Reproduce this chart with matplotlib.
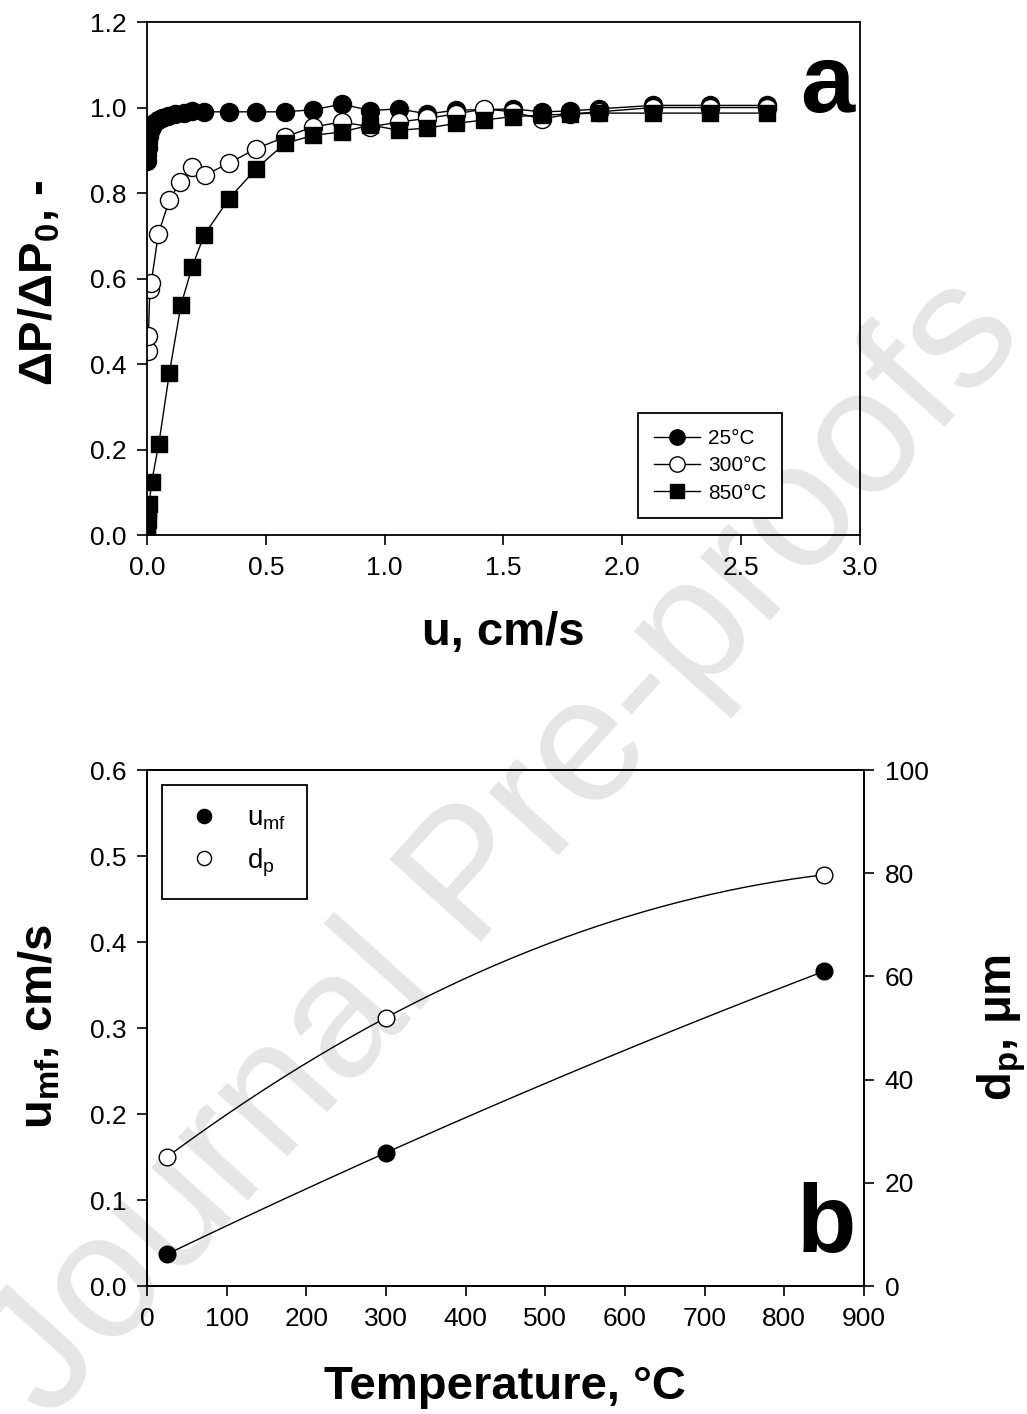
import numpy as np
import matplotlib
matplotlib.use("Agg")
import matplotlib.pyplot as plt

plt.rcParams['font.family'] = ['Liberation Sans', 'DejaVu Sans']
plt.rcParams['mathtext.fontset'] = 'custom'
plt.rcParams['mathtext.rm'] = 'Liberation Sans'
plt.rcParams['mathtext.it'] = 'Liberation Sans:italic'
plt.rcParams['mathtext.bf'] = 'Liberation Sans:bold'

# ---------------- Panel a data ----------------
u_25 = [0.0, 0.002, 0.004, 0.006, 0.009, 0.013, 0.02, 0.03, 0.045, 0.065, 0.09, 0.12, 0.155, 0.19,
        0.24, 0.345, 0.46, 0.58, 0.70, 0.82, 0.94, 1.06, 1.18, 1.30, 1.42, 1.54, 1.66, 1.78, 1.90,
        2.13, 2.37, 2.61]
dp_25 = [0.875, 0.89, 0.905, 0.92, 0.933, 0.945, 0.955, 0.963, 0.97, 0.975, 0.98, 0.984, 0.988, 0.992,
         0.99, 0.99, 0.99, 0.99, 0.995, 1.008, 0.993, 0.997, 0.985, 0.994, 0.995, 0.997, 0.99, 0.992,
         0.997, 1.005, 1.005, 1.005]

u_300 = [0.004, 0.006, 0.012, 0.018, 0.048, 0.094, 0.14, 0.19, 0.245, 0.345, 0.46, 0.58, 0.70, 0.82,
         0.94, 1.06, 1.18, 1.30, 1.42, 1.54, 1.66, 1.78, 1.90, 2.13, 2.37, 2.61]
dp_300 = [0.43, 0.465, 0.575, 0.59, 0.705, 0.783, 0.826, 0.86, 0.842, 0.87, 0.904, 0.931, 0.955, 0.966,
          0.955, 0.966, 0.975, 0.985, 0.997, 0.99, 0.973, 0.985, 0.99, 1.0, 1.0, 1.0]

u_850 = [0.0, 0.002, 0.004, 0.006, 0.009, 0.02, 0.05, 0.094, 0.143, 0.19, 0.24, 0.345, 0.46, 0.58,
         0.70, 0.82, 0.94, 1.06, 1.18, 1.30, 1.42, 1.54, 1.66, 1.78, 1.90, 2.13, 2.37, 2.61]
dp_850 = [0.0, 0.015, 0.035, 0.055, 0.072, 0.125, 0.214, 0.378, 0.538, 0.627, 0.701, 0.787, 0.857, 0.916,
          0.935, 0.943, 0.959, 0.947, 0.952, 0.963, 0.971, 0.979, 0.982, 0.985, 0.987, 0.987, 0.987, 0.987]

legend_a = ['25°C', '300°C', '850°C']
xticks_a = [0.0, 0.5, 1.0, 1.5, 2.0, 2.5, 3.0]
yticks_a = [0.0, 0.2, 0.4, 0.6, 0.8, 1.0, 1.2]

# ---------------- Panel b data ----------------
temp = [25, 300, 850]
umf = [0.037, 0.155, 0.366]
dpart = [25.0, 52.0, 79.7]
xticks_b = [0, 100, 200, 300, 400, 500, 600, 700, 800, 900]
yticks_b = [0.0, 0.1, 0.2, 0.3, 0.4, 0.5, 0.6]
yticks_b2 = [0, 20, 40, 60, 80, 100]

TICK_FS = 19
LABEL_FS = 34

fig = plt.figure(figsize=(10.27, 14.14), dpi=100)

# watermark
fig.text(0.49, 0.40, 'Journal Pre-proofs', fontsize=128, color='#e6e6e6',
         rotation=48, ha='center', va='center', zorder=-10)


def style_axis(ax):
    for s in ax.spines.values():
        s.set_linewidth(1.3)
    ax.tick_params(direction='out', length=7, width=1.2, labelsize=TICK_FS, pad=8,
                   top=False, right=False)
    ax.set_facecolor('none')


# ---------------- Panel a ----------------
ax1 = fig.add_axes([0.1431, 0.6216, 0.6943, 0.3628])
style_axis(ax1)
ax1.plot(u_25, dp_25, '-', color='black', lw=1.0, marker='o', ms=13,
         mfc='black', mec='black', mew=1.0, label=legend_a[0])
ax1.plot(u_300, dp_300, '-', color='black', lw=1.0, marker='o', ms=13,
         mfc='white', mec='black', mew=1.0, label=legend_a[1])
ax1.plot(u_850, dp_850, '-', color='black', lw=1.0, marker='s', ms=11.5,
         mfc='black', mec='black', mew=1.0, label=legend_a[2])
ax1.set_xlim(0, 3.0)
ax1.set_ylim(0, 1.2)
ax1.set_xticks(xticks_a)
ax1.set_xticklabels([f'{v:.1f}' for v in xticks_a])
ax1.set_yticks(yticks_a)
ax1.set_yticklabels([f'{v:.1f}' for v in yticks_a])
leg1 = ax1.legend(loc='lower left', bbox_to_anchor=(0.689, 0.033), fontsize=15,
                  frameon=True, fancybox=False, edgecolor='black', framealpha=1,
                  handlelength=2.2, handletextpad=0.4, labelspacing=0.4,
                  borderpad=0.75, markerscale=0.85, borderaxespad=0)
leg1.get_frame().set_linewidth(1.3)
ax1.text(0.9537, 0.8246, 'a', transform=ax1.transAxes, fontsize=70,
         fontweight='bold', ha='center', va='baseline')

fig.text(0.4898, 0.5523, 'u, cm/s', fontsize=LABEL_FS, fontweight='bold',
         ha='center', va='center')
fig.text(0.039, 0.800, r'ΔP/ΔP$_\mathbf{0}$, -', fontsize=LABEL_FS, fontweight='bold',
         ha='center', va='center', rotation=90)

# ---------------- Panel b ----------------
ax2 = fig.add_axes([0.1431, 0.0905, 0.698, 0.3649])
style_axis(ax2)
ax2.set_xlim(0, 900)
ax2.set_ylim(0, 0.6)
ax2.set_xticks(xticks_b)
ax2.set_yticks(yticks_b)
ax2.set_yticklabels([f'{v:.1f}' for v in yticks_b])

ax3 = ax2.twinx()
ax3.set_ylim(0, 100)
ax3.set_yticks(yticks_b2)
for s in ax3.spines.values():
    s.set_linewidth(1.3)
ax3.tick_params(direction='out', length=7, width=1.2, labelsize=TICK_FS, pad=8)

# smooth fitted curves (quadratic through the points)
tt = np.linspace(min(temp), max(temp), 200)
c1 = np.polyfit(temp, umf, 2)
c2 = np.polyfit(temp, dpart, 2)
ax2.plot(tt, np.polyval(c1, tt), color='black', lw=1.0)
ax3.plot(tt, np.polyval(c2, tt), color='black', lw=1.0)
h1, = ax2.plot(temp, umf, 'o', ms=12, mfc='black', mec='black', mew=1.0, zorder=5)
h2, = ax3.plot(temp, dpart, 'o', ms=12, mfc='white', mec='black', mew=1.0, zorder=5)

leg2 = ax2.legend([h1, h2], [r'u$_\mathregular{mf}$', r'd$_\mathregular{p}$'],
                  loc='upper left', bbox_to_anchor=(0.0209, 0.971), fontsize=20,
                  frameon=True, fancybox=False, edgecolor='black', framealpha=1,
                  handlelength=1.5, handletextpad=0.8, labelspacing=0.5,
                  borderpad=0.75, borderaxespad=0, markerscale=0.85)
leg2.get_frame().set_linewidth(1.3)
leg2.set_zorder(10)

ax2.text(0.947, 0.066, 'b', transform=ax2.transAxes, fontsize=70,
         fontweight='bold', ha='center', va='baseline')

fig.text(0.4917, 0.019, 'Temperature, °C', fontsize=LABEL_FS, fontweight='bold',
         ha='center', va='center')
fig.text(0.039, 0.2737, r'u$_\mathbf{mf}$, cm/s', fontsize=LABEL_FS, fontweight='bold',
         ha='center', va='center', rotation=90)
fig.text(0.975, 0.273, r'd$_\mathbf{p}$, μm', fontsize=LABEL_FS, fontweight='bold',
         ha='center', va='center', rotation=90)

fig.savefig('out.png', dpi=100, facecolor='white')
